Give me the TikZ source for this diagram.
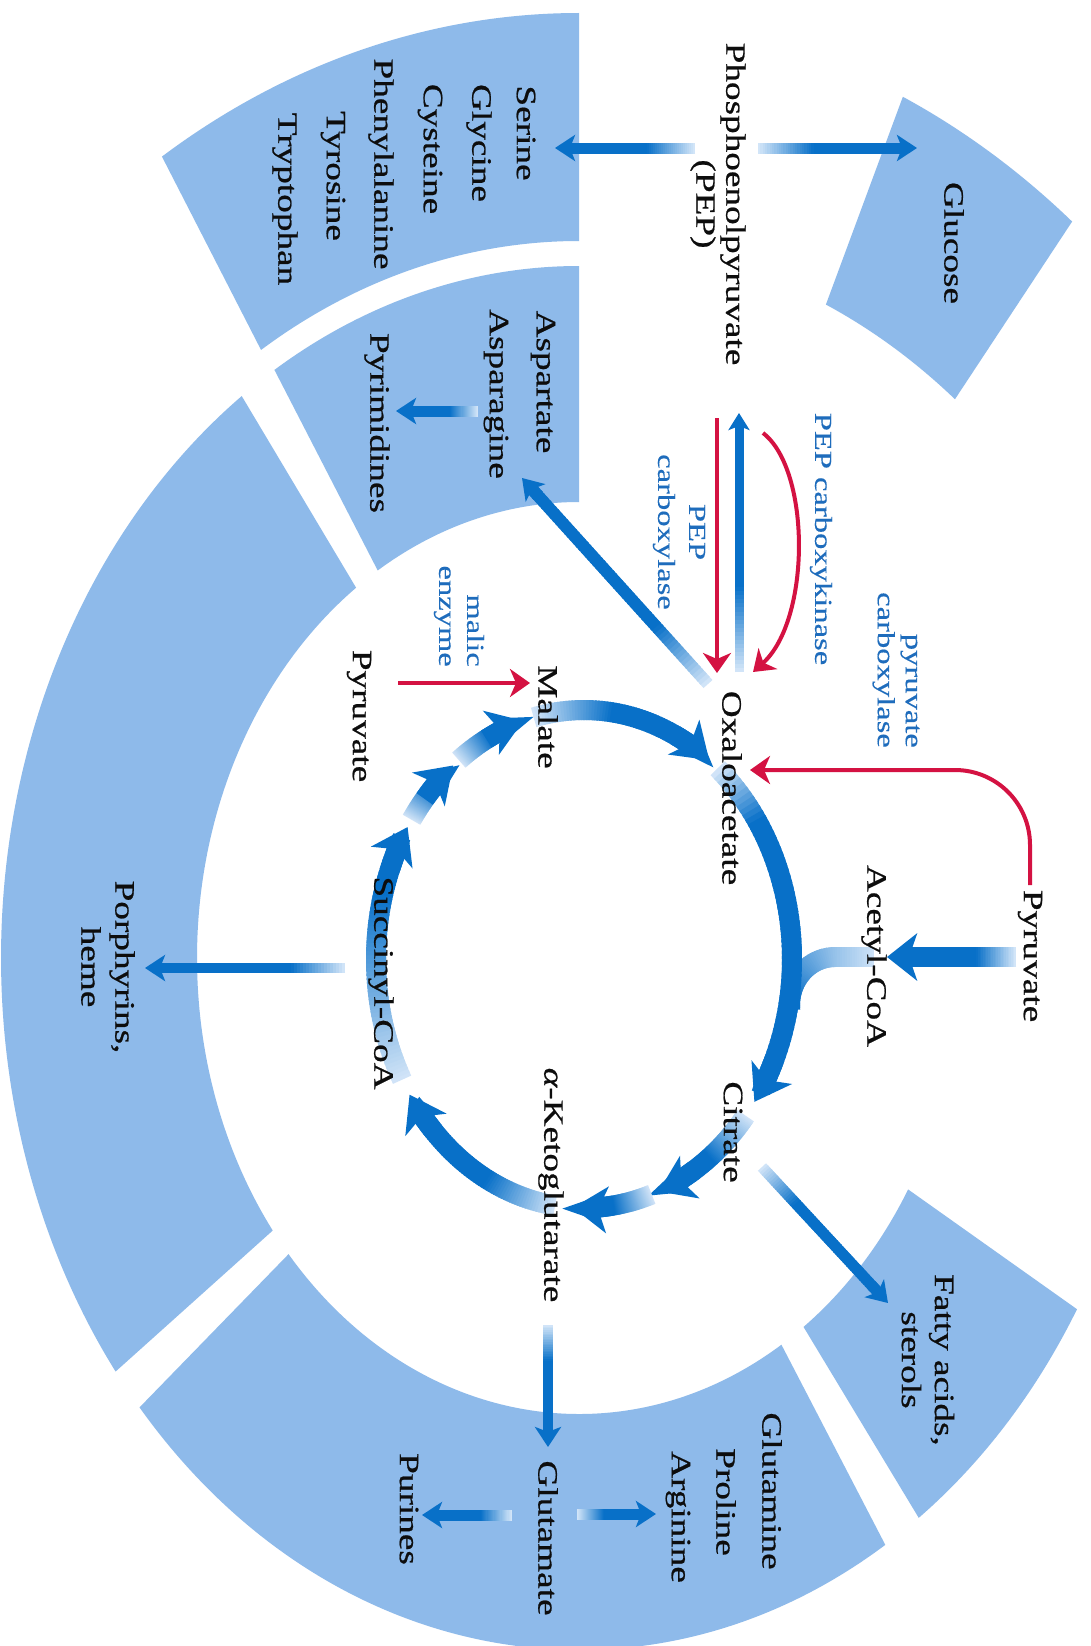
\documentclass[tikz,border=0pt]{standalone}
\usepackage{fontspec}
\setmainfont{Liberation Serif}
\newfontfamily\lblfamily[FakeStretch=1.33,FakeBold=0.7]{Liberation Serif}
\newfontfamily\enzfamily[FakeStretch=1.33,FakeBold=0.3]{Liberation Serif}
\usetikzlibrary{calc,arrows.meta}
\definecolor{bandfill}{RGB}{142,186,234}
\definecolor{tcab}{RGB}{8,112,200}
\definecolor{tcap}{RGB}{214,231,249}
\definecolor{rxnred}{RGB}{212,18,66}
\definecolor{enzblue}{RGB}{30,108,188}
\tikzset{
  smtip/.tip={Stealth[length=20pt,width=26pt,inset=5pt]},
  pcktip/.tip={Stealth[length=17pt,width=21pt,inset=4pt]},
  bigtip/.tip={Stealth[length=34pt,width=46pt,inset=9pt]},
  acttip/.tip={Stealth[length=30pt,width=47pt,inset=8pt]},
  redtip/.tip={Stealth[length=20pt,width=28pt,inset=6pt]},
  redline/.style={draw=rxnred,line width=4pt},
  lbl/.style={rotate=-90,inner sep=0pt,font=\lblfamily\fontsize{28}{30}\selectfont,text=black!95},
  elbl/.style={rotate=-90,inner sep=0pt,font=\enzfamily\fontsize{24.5}{28}\selectfont,text=enzblue},
}
% ring piece: inner a, inner b, outer a, outer b, angle1, angle2
\newcommand\ringpiece[6]{%
  \fill[bandfill] ($(RC)+(#5:#3 and #4)$) arc[start angle=#5,end angle=#6,x radius=#3,y radius=#4]
    -- ($(RC)+(#6:#1 and #2)$) arc[start angle=#6,end angle=#5,x radius=#1,y radius=#2] -- cycle;}
% straight gradient arrow: start, tip, width, head length, tip name, fade fraction
\newcommand\garrow[6]{%
  \pgfmathsetmacro\gd{#4+4}%
  \path ($(#2)!#4pt!(#1)$) coordinate (gaH);
  \foreach \i in {0,...,59}{%
    \pgfmathsetmacro\ga{\i/60}%
    \pgfmathsetmacro\gb{(\i+1.6)/60}%
    \pgfmathsetmacro\pc{min(100,100*(\i+0.5)/(60*#6))}%
    \draw[line width=#3pt,draw=tcab!\pc!tcap] ($(#1)!\ga!(gaH)$) -- ($(#1)!\gb!(gaH)$);
  }%
  \draw[line width=#3pt,tcab,-#5] ($(#2)!\gd pt!(#1)$) -- (#2);
}
% cycle arc: start angle (pale), tip angle, fade span
\newcommand\carc[3]{%
  \pgfmathsetmacro\ce{#2-5}%
  \foreach \i in {0,...,59}{%
    \pgfmathsetmacro\ta{#1+(\ce-#1)*\i/60}%
    \pgfmathsetmacro\tb{#1+(\ce-#1)*(\i+1.6)/60}%
    \pgfmathsetmacro\pc{min(100,100*(\ta-#1)/#3+3)}%
    \draw[line width=20pt,draw=tcab!\pc!tcap] ($(CC)+(\ta:208 and 249)$) arc[start angle=\ta,end angle=\tb,x radius=208,y radius=249];
  }%
  \pgfmathsetmacro\ch{#2-11}%
  \draw[line width=20pt,tcab,-bigtip] ($(CC)+(\ch:208 and 249)$) arc[start angle=\ch,end angle=#2,x radius=208,y radius=249];
}
\begin{document}
\begin{tikzpicture}[x=1pt,y=-1pt]
\useasboundingbox (0,0) rectangle (1091,1646);
\fill[white] (0,0) rectangle (1091,1646);
\coordinate (RC) at (579,958);
\coordinate (CC) at (584,959);

% ---- outer band pieces
\ringpiece{600}{717}{787}{945}{238}{270}       % serine
\ringpiece{600}{717}{787}{945}{294.3}{308.8}   % glucose
\ringpiece{382}{456}{578}{692}{238.2}{270}     % aspartate
\ringpiece{382}{456}{578}{692}{143.3}{234.3}   % porphyrins
\ringpiece{382}{456}{578}{692}{58}{139.5}      % glutamine
\ringpiece{382}{456}{578}{692}{30.5}{54}       % fatty acids

% ---- acetyl-CoA branch
\foreach \i in {0,...,15}{%
  \pgfmathsetmacro\xa{874-\i*39/16}\pgfmathsetmacro\xb{874-(\i+1.5)*39/16}%
  \pgfmathsetmacro\pc{5+\i*1.7}%
  \draw[line width=20pt,draw=tcab!\pc!tcap] (\xa,957) -- (\xb,957);
}
\foreach \i in {0,...,35}{%
  \pgfmathsetmacro\ta{270-95*\i/36}\pgfmathsetmacro\tb{270-95*(\i+1.5)/36}%
  \pgfmathsetmacro\pc{min(100,32+75*\i/34)}%
  \draw[line width=20pt,draw=tcab!\pc!tcap] ($(835,1005)+(\ta:45 and 48)$) arc[start angle=\ta,end angle=\tb,x radius=45,y radius=48];
}

% ---- citric acid cycle
\carc{256}{307}{22}
\carc{310}{395}{16}
\carc{39}{69}{14}
\carc{71}{93}{11}
\carc{98}{147}{20}
\carc{151}{212}{45}
\carc{214}{231}{9}
\carc{233}{253}{10}

% ---- labels
\node[lbl,align=center] (pep) at (718,204) {Phosphoenolpyruvate\\(PEP)};
\node[lbl] (glc) at (954,243) {Glucose};
\node[lbl] (ser) at (526,133) {Serine};
\node[lbl] (gly) at (479,143) {Glycine};
\node[lbl] (cys) at (430,149) {Cysteine};
\node[lbl] (phe) at (381,164) {Phenylalanine};
\node[lbl] (tyr) at (333,176) {Tyrosine};
\node[lbl] (trp) at (285,199) {Tryptophan};
\node[lbl] (asp) at (543,382) {Aspartate};
\node[lbl] (asn) at (496,394) {Asparagine};
\node[lbl] (pyrim) at (377,423) {Pyrimidines};
\node[lbl] (mal) at (548,717) {Malate};
\node[lbl] (pyrL) at (359,716) {Pyruvate};
\node[lbl] (oaa) at (732,788) {Oxaloacetate};
\node[lbl] (cit) at (733,1132) {Citrate};
\node[lbl] (akg) at (551,1185) {{\itshape α}-Ketoglutarate};
\node[lbl] (suc) at (381,983) {Succinyl-CoA};
\node[lbl] (acoa) at (874,956) {Acetyl-CoA};
\node[lbl] (pyrR) at (1030,956) {Pyruvate};
\node[lbl,align=center] (por) at (108,967) {Porphyrins,\\[4pt]heme};
\node[lbl,align=center] (fat) at (928,1360) {Fatty acids,\\[3pt]sterols};
\node[lbl] (gln) at (772,1491) {Glutamine};
\node[lbl] (pro) at (726,1502) {Proline};
\node[lbl] (arg) at (678,1517) {Arginine};
\node[lbl] (glu) at (548,1538) {Glutamate};
\node[lbl] (pur) at (409,1509) {Purines};
\node[elbl] (pck) at (821,539) {PEP carboxykinase};
\node[elbl,align=center] (pepc) at (679,532) {PEP\\[3pt]carboxylase};
\node[elbl,align=right,anchor=east] (me) at (459,667) {malic\\enzyme};
\node[elbl,align=right,anchor=east] (pc) at (896,748) {pyruvate\\carboxylase};

% ---- connector end points
\coordinate (pepS1) at (695,148);  \coordinate (pepS2) at (555,148);
\coordinate (pepG1) at (758,148);  \coordinate (pepG2) at (917,148);
\coordinate (asnP1) at (478,411);  \coordinate (asnP2) at (396,411);
\coordinate (sucP1) at (345,968);  \coordinate (sucP2) at (145,968);
\coordinate (gluA1) at (577,1514); \coordinate (gluA2) at (656,1514);
\coordinate (gluP1) at (512,1515); \coordinate (gluP2) at (422,1515);
\coordinate (akgG1) at (548,1325); \coordinate (akgG2) at (548,1447);
\coordinate (oaaA1) at (708,684);  \coordinate (oaaA2) at (522,478);
\coordinate (citF1) at (762,1167); \coordinate (citF2) at (888,1303);
\coordinate (pckB1) at (739,672);  \coordinate (pckB2) at (739,413);
\coordinate (pyrA1) at (1016,957); \coordinate (pyrA2) at (887,957);
\coordinate (pepcR1) at (717,418); \coordinate (pepcR2) at (717,673);
\coordinate (pckR1) at (763,433);  \coordinate (pckR2) at (753,672);
\coordinate (meR1) at (398,683);   \coordinate (meR2) at (530,683);
\coordinate (pcR1) at (1030,885);  \coordinate (pcR2) at (750,770);

% ---- blue gradient arrows
\garrow{pepS1}{pepS2}{11}{20}{smtip}{0.4}
\garrow{pepG1}{pepG2}{11}{20}{smtip}{0.4}
\garrow{asnP1}{asnP2}{11}{20}{smtip}{0.45}
\garrow{sucP1}{sucP2}{10}{20}{smtip}{0.3}
\garrow{gluA1}{gluA2}{11}{20}{smtip}{0.45}
\garrow{gluP1}{gluP2}{11}{20}{smtip}{0.45}
\garrow{akgG1}{akgG2}{10}{20}{smtip}{0.35}
\garrow{oaaA1}{oaaA2}{12}{20}{smtip}{0.3}
\garrow{citF1}{citF2}{11}{20}{smtip}{0.3}
\garrow{pckB1}{pckB2}{9}{17}{pcktip}{0.35}
\garrow{pyrA1}{pyrA2}{20}{30}{acttip}{0.4}

% ---- red arrows
\draw[redline,-redtip] (pepcR1) -- (pepcR2);
\draw[redline,-redtip] (pckR1) .. controls (811,470) and (811,620) .. (pckR2);
\draw[redline,-redtip] (meR1) -- (meR2);
\draw[redline,-redtip,rounded corners=75pt] (pcR1) |- (pcR2);
\end{tikzpicture}
\end{document}
